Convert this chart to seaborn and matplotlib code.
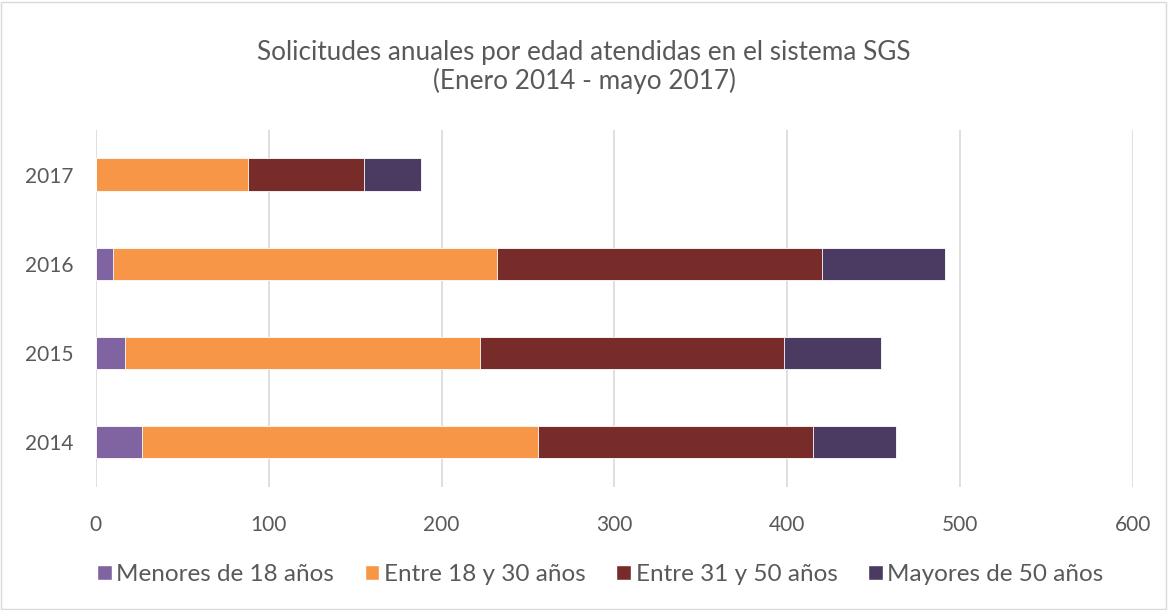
import pandas as pd
import seaborn as sns
import numpy as np
import matplotlib.pyplot as plt
from matplotlib.patches import Patch, Rectangle

years = ["2017", "2016", "2015", "2014"]
menores = [0, 10, 17, 27]
entre_18_30 = [88, 222, 205, 229]
entre_31_50 = [67, 188, 176, 159]
mayores = [33, 71, 56, 48]

series = ["Menores de 18 años", "Entre 18 y 30 años", "Entre 31 y 50 años", "Mayores de 50 años"]
colors = ["#8064A2", "#F79646", "#772C2A", "#4B3A61"]

df = pd.DataFrame({"year": years, series[0]: menores, series[1]: entre_18_30,
                   series[2]: entre_31_50, series[3]: mayores})

sns.set_style("white")
plt.rcParams['font.family'] = ['Lato', 'DejaVu Sans']
txt = "#595959"

fig = plt.figure(figsize=(11.68, 6.1), dpi=100)
ax = fig.add_axes([0.082, 0.202, 0.888, 0.585])

# stacked look: draw cumulative totals from the widest down
cum = df[series].cumsum(axis=1)
for s, c in reversed(list(zip(series, colors))):
    sns.barplot(x=cum[s], y=df["year"], order=years, color=c, width=0.36, saturation=1,
                edgecolor="white", linewidth=0.6, ax=ax, orient="h")

ax.set_xlim(0, 600)
ax.set_ylim(3.5, -0.5)
ax.set_xticks(np.arange(0, 601, 100))
ax.xaxis.grid(True, color="#D9D9D9", linewidth=1.2)
ax.set_axisbelow(True)
for sp in ax.spines.values():
    sp.set_visible(False)
ax.set_xlabel("")
ax.set_ylabel("")
ax.tick_params(axis="both", length=0, labelsize=15, colors=txt)
ax.tick_params(axis="y", pad=16)
ax.tick_params(axis="x", pad=20)

fig.suptitle("Solicitudes anuales por edad atendidas en el sistema SGS\n(Enero 2014 - mayo 2017)",
             y=0.935, fontsize=18.8, color=txt, linespacing=1.15)

handles = [Patch(facecolor=c, label=s) for s, c in zip(series, colors)]
fig.legend(handles=handles, loc="center", bbox_to_anchor=(0.514, 0.058), ncol=4,
           frameon=False, fontsize=17.5, handlelength=0.6, handleheight=0.6,
           handletextpad=0.2, columnspacing=1.25, labelcolor=txt)

fig.patches.append(Rectangle((0.001, 0.002), 0.997, 0.995, transform=fig.transFigure,
                             fill=False, edgecolor="#D9D9D9", linewidth=1))

fig.savefig("out.png", dpi=100)
